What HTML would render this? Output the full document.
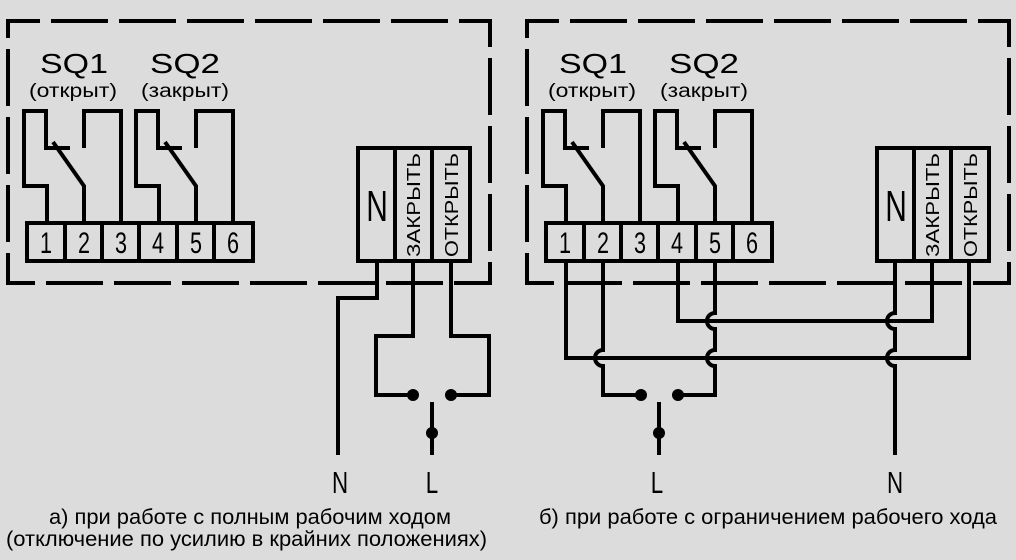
<!DOCTYPE html>
<html><head><meta charset="utf-8"><style>
html,body{margin:0;padding:0;background:#dcdcdc;}
svg{display:block;}
text{font-family:"Liberation Sans","DejaVu Sans",sans-serif;fill:#000;}
</style></head><body>
<svg width="1016" height="560" viewBox="0 0 1016 560" xmlns="http://www.w3.org/2000/svg">
<rect width="1016" height="560" fill="#dcdcdc"/>
<defs>
<g id="panel">
  <path d="M8,21 H490 V283 H8 Z" fill="none" stroke="#000" stroke-width="4" stroke-dasharray="57 11" stroke-dashoffset="25"/>
  <text x="74" y="73" font-size="28" text-anchor="middle" textLength="68" lengthAdjust="spacingAndGlyphs">SQ1</text>
  <text x="185" y="73" font-size="28" text-anchor="middle" textLength="70" lengthAdjust="spacingAndGlyphs">SQ2</text>
  <text x="73" y="97" font-size="19" text-anchor="middle" textLength="88" lengthAdjust="spacingAndGlyphs">(открыт)</text>
  <text x="185" y="97" font-size="19" text-anchor="middle" textLength="88" lengthAdjust="spacingAndGlyphs">(закрыт)</text>
  <g fill="none" stroke="#000" stroke-width="4" stroke-linejoin="miter">
    <g id="sw">
      <path d="M47,223 V186 H24 V111 H46 V148 H70"/>
      <path d="M53,142 L84,186 V223"/>
      <path d="M121,223 V111 H84 V148"/>
    </g>
    <use href="#sw" x="112"/>
    <rect x="27" y="223" width="226" height="38"/>
    <path d="M65,223V261 M102,223V261 M139,223V261 M177,223V261 M214,223V261"/>
    <rect x="358" y="148" width="112" height="113"/>
    <path d="M395,148V261 M432,148V261"/>
  </g>
  <g font-size="30">
    <text transform="translate(46,253) scale(0.72,1)" text-anchor="middle">1</text>
    <text transform="translate(84,253) scale(0.72,1)" text-anchor="middle">2</text>
    <text transform="translate(121,253) scale(0.72,1)" text-anchor="middle">3</text>
    <text transform="translate(158,253) scale(0.72,1)" text-anchor="middle">4</text>
    <text transform="translate(196,253) scale(0.72,1)" text-anchor="middle">5</text>
    <text transform="translate(233,253) scale(0.72,1)" text-anchor="middle">6</text>
  </g>
  <text transform="translate(377,221) scale(0.68,1)" font-size="44" text-anchor="middle">N</text>
  <text transform="translate(420,205) rotate(-90)" font-size="18" text-anchor="middle" textLength="104" lengthAdjust="spacingAndGlyphs">ЗАКРЫТЬ</text>
  <text transform="translate(458,205) rotate(-90)" font-size="18" text-anchor="middle" textLength="104" lengthAdjust="spacingAndGlyphs">ОТКРЫТЬ</text>
</g>
</defs>
<use href="#panel"/>
<use href="#panel" x="519"/>

<g fill="none" stroke="#000" stroke-width="4">
  <path d="M377,261 V298 H338 V455"/>
  <path d="M413,261 V336 H376 V395 H413"/>
  <path d="M451,261 V336 H489 V395 H451"/>
  <path d="M432,402 V455"/>
  <path d="M566,261 V358 H969 V261"/>
  <path d="M678,261 V321 H932 V261"/>
  <path d="M603,261 V350 A8,8 0 0 0 603,366 V395 H641"/>
  <path d="M715,261 V313 A8,8 0 0 0 715,329 V350 A8,8 0 0 0 715,366 V395 H678"/>
  <path d="M895,261 V313 A8,8 0 0 0 895,329 V350 A8,8 0 0 0 895,366 V455"/>
  <path d="M659,402 V455"/>
</g>
<g fill="#000">
  <circle cx="413" cy="395" r="6"/><circle cx="451" cy="395" r="6"/><circle cx="432" cy="433" r="6"/>
  <circle cx="641" cy="395" r="6"/><circle cx="678" cy="395" r="6"/><circle cx="659" cy="433" r="6"/>
</g>
<g font-size="31" text-anchor="middle">
  <text transform="translate(340,493) scale(0.72,1)">N</text>
  <text transform="translate(432,493) scale(0.72,1)">L</text>
  <text transform="translate(657,493) scale(0.72,1)">L</text>
  <text transform="translate(895,493) scale(0.72,1)">N</text>
</g>
<g font-size="21">
  <text x="49" y="524" textLength="402" lengthAdjust="spacingAndGlyphs">а) при работе с полным рабочим ходом</text>
  <text x="6" y="546" textLength="481" lengthAdjust="spacingAndGlyphs">(отключение по усилию в крайних положениях)</text>
  <text x="539" y="524" textLength="458" lengthAdjust="spacingAndGlyphs">б) при работе с ограничением рабочего хода</text>
</g>
</svg>
</body></html>
